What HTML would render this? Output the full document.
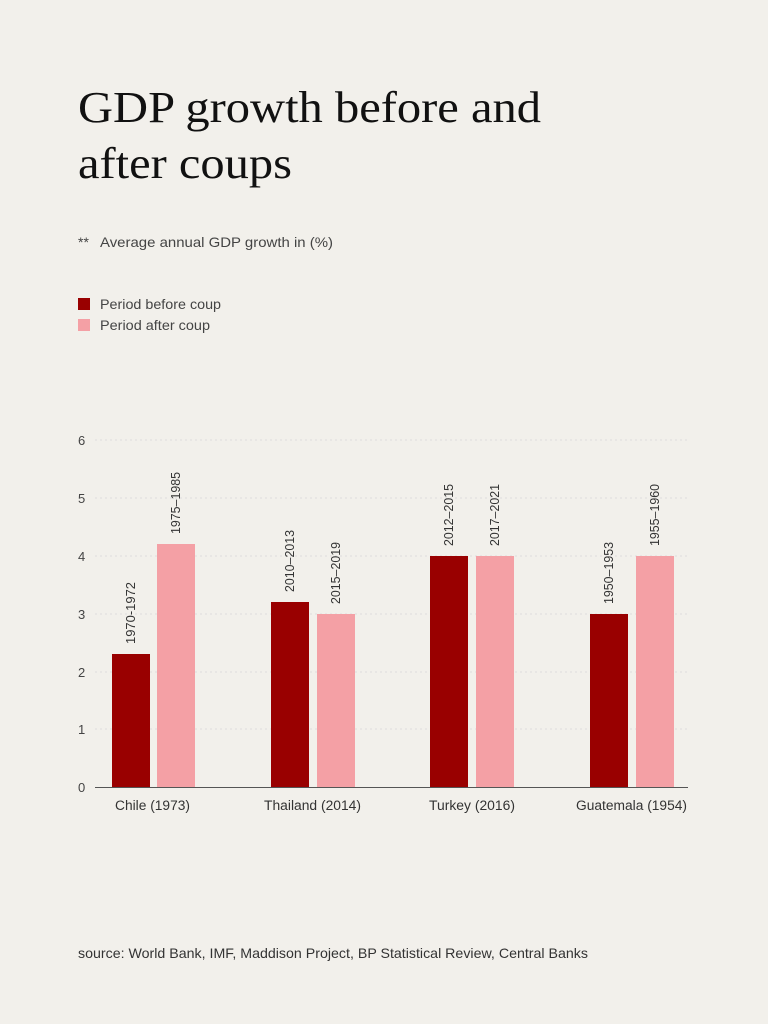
<!DOCTYPE html>
<html><head><meta charset="utf-8"><style>
html,body{margin:0;padding:0;background:#f2f0eb;}
svg{display:block}
</style></head><body>
<svg width="768" height="1024" xmlns="http://www.w3.org/2000/svg">
<rect width="768" height="1024" fill="#f2f0eb"/>
<g font-family="Liberation Serif, serif" font-size="44" fill="#111">
<text x="78" y="122" textLength="463" lengthAdjust="spacingAndGlyphs">GDP growth before and</text>
<text x="78" y="178" textLength="214" lengthAdjust="spacingAndGlyphs">after coups</text>
</g>
<g font-family="Liberation Sans, sans-serif" font-size="14" fill="#444">
<text x="78" y="247">**</text>
<text x="100" y="247" textLength="233" lengthAdjust="spacingAndGlyphs">Average annual GDP growth in (%)</text>
<rect x="78" y="298" width="12" height="12" fill="#990000"/>
<text x="100" y="309" textLength="121" lengthAdjust="spacingAndGlyphs">Period before coup</text>
<rect x="78" y="319" width="12" height="12" fill="#f4a0a5"/>
<text x="100" y="330" textLength="110" lengthAdjust="spacingAndGlyphs">Period after coup</text>
</g>
<g stroke="#ddd" stroke-dasharray="2,3" stroke-width="1">
<line x1="95" y1="440" x2="688" y2="440"/>
<line x1="95" y1="498" x2="688" y2="498"/>
<line x1="95" y1="556" x2="688" y2="556"/>
<line x1="95" y1="614" x2="688" y2="614"/>
<line x1="95" y1="672" x2="688" y2="672"/>
<line x1="95" y1="729" x2="688" y2="729"/>
</g>
<g font-family="Liberation Sans, sans-serif" font-size="13" fill="#444">
<text x="78" y="445">6</text><text x="78" y="503">5</text><text x="78" y="561">4</text>
<text x="78" y="619">3</text><text x="78" y="677">2</text><text x="78" y="734">1</text><text x="78" y="792">0</text>
</g>
<g>
<rect x="112" y="654" width="38" height="133" fill="#990000"/>
<rect x="157" y="544" width="38" height="243" fill="#f4a0a5"/>
<rect x="271" y="602" width="38" height="185" fill="#990000"/>
<rect x="317" y="614" width="38" height="173" fill="#f4a0a5"/>
<rect x="430" y="556" width="38" height="231" fill="#990000"/>
<rect x="476" y="556" width="38" height="231" fill="#f4a0a5"/>
<rect x="590" y="614" width="38" height="173" fill="#990000"/>
<rect x="636" y="556" width="38" height="231" fill="#f4a0a5"/>
</g>
<line x1="95" y1="787.5" x2="688" y2="787.5" stroke="#555" stroke-width="1"/>
<g font-family="Liberation Sans, sans-serif" font-size="12.5" fill="#333">
<text transform="translate(135,644) rotate(-90)" textLength="62" lengthAdjust="spacingAndGlyphs">1970-1972</text>
<text transform="translate(180,534) rotate(-90)" textLength="62" lengthAdjust="spacingAndGlyphs">1975–1985</text>
<text transform="translate(294,592) rotate(-90)" textLength="62" lengthAdjust="spacingAndGlyphs">2010–2013</text>
<text transform="translate(340,604) rotate(-90)" textLength="62" lengthAdjust="spacingAndGlyphs">2015–2019</text>
<text transform="translate(453,546) rotate(-90)" textLength="62" lengthAdjust="spacingAndGlyphs">2012–2015</text>
<text transform="translate(499,546) rotate(-90)" textLength="62" lengthAdjust="spacingAndGlyphs">2017–2021</text>
<text transform="translate(613,604) rotate(-90)" textLength="62" lengthAdjust="spacingAndGlyphs">1950–1953</text>
<text transform="translate(659,546) rotate(-90)" textLength="62" lengthAdjust="spacingAndGlyphs">1955–1960</text>
</g>
<g font-family="Liberation Sans, sans-serif" font-size="13.5" fill="#333">
<text x="115" y="810" textLength="75" lengthAdjust="spacingAndGlyphs">Chile (1973)</text>
<text x="264" y="810" textLength="97" lengthAdjust="spacingAndGlyphs">Thailand (2014)</text>
<text x="429" y="810" textLength="86" lengthAdjust="spacingAndGlyphs">Turkey (2016)</text>
<text x="576" y="810" textLength="111" lengthAdjust="spacingAndGlyphs">Guatemala (1954)</text>
</g>
<text x="78" y="958" font-family="Liberation Sans, sans-serif" font-size="14" fill="#333" textLength="510" lengthAdjust="spacingAndGlyphs">source: World Bank, IMF, Maddison Project, BP Statistical Review, Central Banks</text>
</svg>
</body></html>
